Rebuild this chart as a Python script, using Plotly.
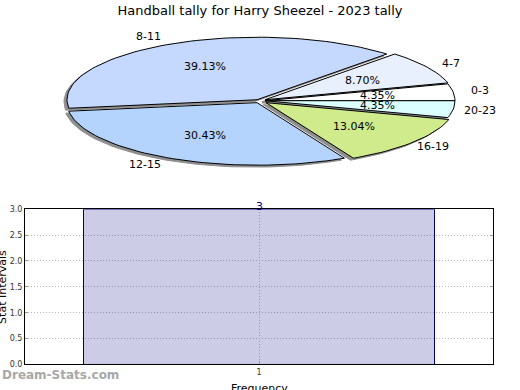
import numpy as np
import plotly.graph_objects as go

# ---------------- data ----------------
title_text = "Handball tally for Harry Sheezel - 2023 tally"
categories = ["0-3", "4-7", "8-11", "12-15", "16-19", "20-23"]
counts = [1, 2, 9, 7, 3, 1]

bar_x = [1]
bar_y = [3]
y_tick_vals = [0, 0.5, 1, 1.5, 2, 2.5, 3]
y_tick_text = ["0.0", "0.5", "1.0", "1.5", "2.0", "2.5", "3.0"]
x_tick_vals = [1]
x_tick_text = ["1"]

# ---------------- style ----------------
slice_colors = ["#ffffff", "#e8effd", "#c5d8fd", "#b4d3fd", "#d0eb8c", "#dbffff"]
slice_offsets = [(1, 0), (1, -1), (-7, -1), (-7, 2), (2, 2), (1, 0)]
CX, CY, RX, RY = 264.0, 99.0, 190.0, 64.0
FONT = "DejaVu Sans"

fig = go.Figure()

total = float(sum(counts))
angles = np.cumsum([0] + [c / total * 360.0 for c in counts])


def slice_poly(a0, a1, dx, dy, sx=0.0, sy=0.0):
    t = np.radians(np.linspace(a0, a1, max(8, int((a1 - a0) / 2) + 2)))
    xs = [CX + dx + sx] + list(CX + dx + sx + RX * np.cos(t)) + [CX + dx + sx]
    ys = [CY + dy + sy] + list(CY + dy + sy - RY * np.sin(t)) + [CY + dy + sy]
    return xs, ys


# shadows
for i in range(len(counts)):
    dx, dy = slice_offsets[i]
    xs, ys = slice_poly(angles[i], angles[i + 1], dx, dy, -3, 2)
    fig.add_trace(go.Scatter(x=xs, y=ys, mode="lines", fill="toself",
                             fillcolor="#8f8f8f", line=dict(color="#8f8f8f", width=1),
                             hoverinfo="skip", showlegend=False, xaxis="x", yaxis="y"))
# slices
for i in range(len(counts)):
    dx, dy = slice_offsets[i]
    xs, ys = slice_poly(angles[i], angles[i + 1], dx, dy)
    fig.add_trace(go.Scatter(x=xs, y=ys, mode="lines", fill="toself",
                             fillcolor=slice_colors[i], line=dict(color="#000000", width=1),
                             name=categories[i], hoverinfo="name", showlegend=False,
                             xaxis="x", yaxis="y"))

annotations = []
for i in range(len(counts)):
    dx, dy = slice_offsets[i]
    mid = np.radians((angles[i] + angles[i + 1]) / 2)
    c, s = np.cos(mid), np.sin(mid)
    annotations.append(dict(x=CX + dx + 0.6 * RX * c, y=CY + dy - 0.6 * RY * s,
                            xref="x", yref="y", text="%.2f%%" % (counts[i] / total * 100),
                            showarrow=False, font=dict(family=FONT, size=11, color="#000"),
                            xanchor="center", yanchor="middle"))
    lx = CX + 1.15 * RX * c
    ly = CY - 1.15 * RY * s
    annotations.append(dict(x=lx, y=ly, xref="x", yref="y", text=categories[i],
                            showarrow=False, font=dict(family=FONT, size=11, color="#000"),
                            xanchor="right" if c < -0.3 else "center", yanchor="middle"))

# ---------------- bar chart ----------------
fig.add_trace(go.Bar(x=bar_x, y=bar_y, width=0.75,
                     marker=dict(color="rgba(0,0,128,0.2)", line=dict(color="#000080", width=1)),
                     hoverinfo="x+y", showlegend=False, xaxis="x2", yaxis="y2"))
for xv, yv in zip(bar_x, bar_y):
    annotations.append(dict(x=xv, y=yv, xref="x2", yref="y2", text=str(yv), showarrow=False,
                            font=dict(family=FONT, size=11, color="#000080"),
                            yanchor="middle", yshift=3))

annotations.append(dict(x=0.005, y=1 - 290 / 390, xref="paper", yref="paper", text="Stat Intervals",
                        textangle=-90, showarrow=False, font=dict(family=FONT, size=11, color="#000"),
                        xanchor="center", yanchor="middle"))
annotations.append(dict(x=259 / 520, y=1 - 385 / 390, xref="paper", yref="paper", text="Frequency",
                        showarrow=False, font=dict(family=FONT, size=11, color="#000"),
                        xanchor="center", yanchor="top"))
annotations.append(dict(x=0, y=1 - 380 / 390, xref="paper", yref="paper", text="<b>Dream-Stats.com</b>",
                        showarrow=False, font=dict(family=FONT, size=12, color="#a8a8a8"),
                        xanchor="left", yanchor="middle"))

grid_style = dict(showgrid=True, gridcolor="#b8b8b8", griddash="1px,2px", gridwidth=1)

fig.update_layout(
    width=520, height=390,
    margin=dict(l=0, r=0, t=0, b=0),
    paper_bgcolor="white", plot_bgcolor="white",
    showlegend=False,
    title=dict(text=title_text, x=0.5, xanchor="center", y=1 - 10 / 390, yanchor="middle",
               font=dict(family=FONT, size=13, color="#000")),
    xaxis=dict(domain=[0, 1], range=[0, 520], visible=False, fixedrange=True),
    yaxis=dict(domain=[0.5, 1], range=[195, 0], visible=False, fixedrange=True),
    xaxis2=dict(domain=[25 / 520, 493 / 520], range=[0.5, 1.5], anchor="y2",
                tickvals=x_tick_vals, ticktext=x_tick_text,
                showline=True, linecolor="#000", linewidth=1, mirror=True,
                ticks="inside", ticklen=3, tickcolor="#999",
                zeroline=False, tickfont=dict(family=FONT, size=8, color="#333"), **grid_style),
    yaxis2=dict(domain=[1 - 369 / 390, 1 - 210 / 390], range=[0, 3], anchor="x2",
                tickvals=y_tick_vals, ticktext=y_tick_text,
                showline=True, linecolor="#000", linewidth=1, mirror="ticks",
                ticks="inside", ticklen=3, tickcolor="#999",
                zeroline=False, tickfont=dict(family=FONT, size=8, color="#333"), **grid_style),
    annotations=annotations,
)

post = (
    "var h=document.documentElement,b=document.body;"
    "[h,b].forEach(function(e){e.style.margin='0';e.style.padding='0';"
    "e.style.overflow='hidden';e.style.height='390px';e.style.width='520px';});"
)
fig.write_html("out.html", config={"displayModeBar": False}, post_script=post)
